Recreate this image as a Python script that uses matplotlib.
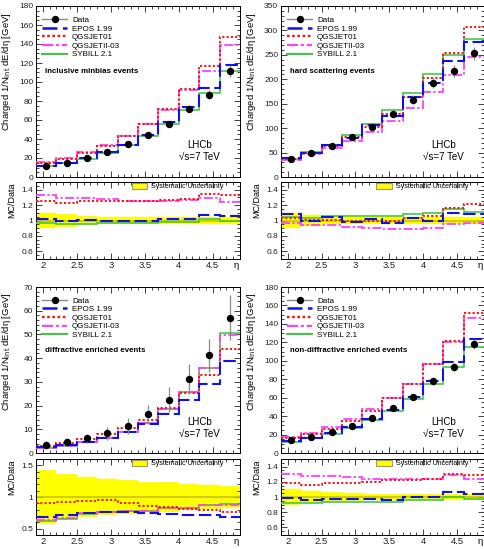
import numpy as np
import matplotlib
matplotlib.use("Agg")
import matplotlib.pyplot as plt
from matplotlib.lines import Line2D
from matplotlib.patches import Patch
from matplotlib.ticker import MultipleLocator, FuncFormatter

plt.rcParams["font.family"] = ["Liberation Sans", "DejaVu Sans"]

# pseudorapidity binning, 1.9 < eta < 4.9 in steps of 0.3
ETA_EDGES = np.round(np.linspace(1.9, 4.9, 11), 2)
ETA_MID = 0.5 * (ETA_EDGES[:-1] + ETA_EDGES[1:])

# inclusive minbias
MB_DATA  = [11.6, 15.1, 20.0, 26.0, 34.5, 44.7, 56.3, 72.1, 86.8, 111.5]
MB_ERR   = [1.0, 1.0, 1.2, 1.5, 1.8, 2.2, 2.6, 3.5, 4.4, 6.5]
MB_SYST  = [0.10, 0.08, 0.06, 0.045, 0.04, 0.04, 0.04, 0.04, 0.05, 0.05]
MB_EPOS  = [1.024, 1.0, 1.006, 1.0, 0.99, 0.99, 1.02, 1.02, 1.076, 1.055]
MB_QGS1  = [1.25, 1.23, 1.25, 1.25, 1.25, 1.25, 1.27, 1.285, 1.345, 1.325]
MB_QGS2  = [1.33, 1.295, 1.29, 1.28, 1.25, 1.25, 1.255, 1.265, 1.29, 1.245]
MB_SYB   = [0.967, 0.95, 0.96, 0.963, 0.963, 0.963, 0.985, 0.985, 1.02, 1.0]

# hard scattering
HS_DATA  = [36.2, 49.2, 62.9, 81.3, 103.2, 129.9, 158.6, 192.0, 217.4, 252.9]
HS_ERR   = [2.5, 3.0, 3.5, 4.5, 6.0, 7.0, 8.5, 10.0, 12.0, 13.5]
HS_SYST  = [0.10, 0.07, 0.05, 0.045, 0.045, 0.045, 0.045, 0.045, 0.045, 0.045]
HS_EPOS  = [1.08, 1.0, 1.04, 0.985, 1.024, 0.965, 1.03, 1.0, 1.095, 1.09]
HS_QGS1  = [1.037, 1.012, 1.005, 1.0, 0.993, 0.993, 1.028, 1.055, 1.163, 1.213]
HS_QGS2  = [0.965, 0.937, 0.937, 0.917, 0.897, 0.887, 0.895, 0.903, 0.96, 0.973]
HS_SYB   = [1.04, 1.027, 1.052, 1.058, 1.06, 1.06, 1.085, 1.097, 1.146, 1.113]

# diffractive enriched
DF_DATA  = [3.46, 4.57, 6.2, 8.3, 11.5, 16.35, 22.45, 31.2, 41.15, 57.1]
DF_ERR   = [1.7, 1.8, 2.0, 2.7, 3.3, 4.0, 5.2, 6.5, 7.0, 9.4]
DF_SYST  = [0.43, 0.37, 0.32, 0.29, 0.265, 0.24, 0.23, 0.21, 0.19, 0.17]
DF_EPOS  = [0.68, 0.714, 0.75, 0.765, 0.77, 0.745, 0.735, 0.71, 0.71, 0.68]
DF_QGS1  = [0.90, 0.915, 0.93, 0.95, 0.91, 0.855, 0.84, 0.81, 0.80, 0.765]
DF_QGS2  = [0.63, 0.67, 0.75, 0.77, 0.78, 0.78, 0.82, 0.83, 0.875, 0.875]
DF_SYB   = [0.617, 0.66, 0.73, 0.765, 0.78, 0.785, 0.82, 0.83, 0.87, 0.888]

# non-diffractive enriched
ND_DATA  = [13.6, 17.5, 22.5, 29.2, 38.4, 48.7, 61.1, 77.7, 92.9, 118.0]
ND_ERR   = [1.0, 1.0, 1.2, 1.5, 1.8, 2.2, 2.8, 3.5, 4.5, 5.5]
ND_SYST  = [0.10, 0.08, 0.06, 0.05, 0.045, 0.045, 0.04, 0.04, 0.045, 0.045]
ND_EPOS  = [0.99, 0.96, 0.97, 0.97, 0.97, 0.96, 1.0, 1.0, 1.063, 1.046]
ND_QGS1  = [1.18, 1.162, 1.18, 1.188, 1.2, 1.218, 1.23, 1.237, 1.305, 1.29]
ND_QGS2  = [1.305, 1.27, 1.27, 1.262, 1.237, 1.232, 1.232, 1.237, 1.29, 1.24]
ND_SYB   = [0.915, 0.924, 0.937, 0.937, 0.937, 0.937, 0.96, 0.96, 1.0, 0.976]

MODELS = [
    # label, color, linestyle, linewidth
    ("EPOS 1.99",   "#1010f0", (0, (6, 2.2)),          1.5),
    ("QGSJET01",    "#ff1010", (0, (1.1, 1.1)),        1.4),
    ("QGSJETII-03", "#ff40ff", (0, (5, 1.3, 1.3, 1.3)), 1.3),
    ("SYBILL 2.1",  "#44c844", "-",                    1.2),
]

PANELS = [
    # title, data, err, syst, ratios, main ylim, major, minor, ratio ylim, rmajor, rminor
    ("inclusive minbias events", MB_DATA, MB_ERR, MB_SYST,
     [MB_EPOS, MB_QGS1, MB_QGS2, MB_SYB], 180, 20, 5, (0.5, 1.5), 0.2, 0.05),
    ("hard scattering events", HS_DATA, HS_ERR, HS_SYST,
     [HS_EPOS, HS_QGS1, HS_QGS2, HS_SYB], 350, 50, 10, (0.5, 1.5), 0.2, 0.05),
    ("diffractive enriched events", DF_DATA, DF_ERR, DF_SYST,
     [DF_EPOS, DF_QGS1, DF_QGS2, DF_SYB], 70, 10, 2, (0.4, 1.6), 0.5, 0.1),
    ("non-diffractive enriched events", ND_DATA, ND_ERR, ND_SYST,
     [ND_EPOS, ND_QGS1, ND_QGS2, ND_SYB], 180, 20, 5, (0.5, 1.5), 0.2, 0.05),
]

W, H = 485, 549
fig = plt.figure(figsize=(W / 100, H / 100), dpi=100)

# pixel boxes: (left, right) columns, (main top, main bottom, ratio top, ratio bottom) rows
COLS = [(36, 240), (281, 484)]
ROWS = [(6, 177, 182, 259), (287, 453, 459, 535)]
YLABEL_LEN = 119  # pixel length of the long y titles

fmt_g = FuncFormatter(lambda v, p: f"{v:g}")


def px_axes(l, r, t, b):
    return fig.add_axes([l / W, 1 - b / H, (r - l) / W, (b - t) / H])


def style_axes(ax, major, minor):
    ax.set_xlim(ETA_EDGES[0], ETA_EDGES[-1])
    ax.xaxis.set_major_locator(MultipleLocator(0.5))
    ax.xaxis.set_minor_locator(MultipleLocator(0.1))
    ax.yaxis.set_major_locator(MultipleLocator(major))
    ax.yaxis.set_minor_locator(MultipleLocator(minor))
    ax.xaxis.set_major_formatter(fmt_g)
    ax.yaxis.set_major_formatter(fmt_g)
    ax.tick_params(which="both", direction="in", top=True, right=True,
                   width=0.6, colors="#222222")
    ax.tick_params(which="major", length=4.5)
    ax.tick_params(which="minor", length=2.3)
    ax.tick_params(axis="y", labelsize=6, pad=2)
    ax.tick_params(axis="x", labelsize=6.8, pad=1.5)
    for s in ax.spines.values():
        s.set_linewidth(0.7)


main_axes = []
for i, (title, data, err, syst, ratios, ytop, maj, mnr,
        rlim, rmaj, rmnr) in enumerate(PANELS):
    l, r = COLS[i % 2]
    mt, mb, rt, rb = ROWS[i // 2]
    data = np.array(data)

    # ---- main distribution ----
    ax = px_axes(l, r, mt, mb)
    for (lab, col, ls, lw), rat in reversed(list(zip(MODELS, ratios))):
        ax.stairs(np.array(rat) * data, ETA_EDGES, color=col, ls=ls, lw=lw,
                  baseline=None, zorder=3)
    ax.errorbar(ETA_MID, data, yerr=err, fmt="o", color="black", ms=4.3,
                ecolor="#8a8a8a", elinewidth=0.9, capsize=0, zorder=5)
    ax.set_ylim(0, ytop)
    style_axes(ax, maj, mnr)
    ax.tick_params(labelbottom=False)
    ax.set_ylabel("Charged 1/N$_{\\rm int}$ dE/d\u03b7 [GeV]", fontsize=7,
                  loc="top")
    ax.yaxis.set_label_coords(-0.113, 0.965)
    main_axes.append(ax)

    handles = [Line2D([], [], color="#8a8a8a", lw=1.0, marker="o", ms=4.3,
                      mfc="black", mec="black")]
    handles += [Line2D([], [], color=c, ls=s, lw=w + 0.3) for _, c, s, w in MODELS]
    labels = ["Data"] + [m[0] for m in MODELS]
    ax.legend(handles, labels, loc="upper left", bbox_to_anchor=(0.03, 0.94),
              frameon=False, fontsize=5.8, handlelength=3.1, handletextpad=0.6,
              labelspacing=0.12, borderpad=0, borderaxespad=0)
    ax.text(0.045, 0.615, title, transform=ax.transAxes, fontsize=5.7,
            fontweight="bold", va="center", ha="left")
    ax.text(0.80, 0.187, "LHCb", transform=ax.transAxes, fontsize=7,
            ha="center", va="center")
    ax.text(0.80, 0.117, "\u221as=7 TeV", transform=ax.transAxes, fontsize=7,
            ha="center", va="center")

    # ---- MC / data ratio ----
    rx = px_axes(l, r, rt, rb)
    syst = np.array(syst)
    rx.stairs(1 + syst, ETA_EDGES, baseline=1 - syst, fill=True,
              color="#ffff00", lw=0, zorder=1)
    rx.axhline(1.0, color="#c8c400", lw=1.2, zorder=2)
    for (lab, col, ls, lw), rat in reversed(list(zip(MODELS, ratios))):
        rx.stairs(rat, ETA_EDGES, color=col, ls=ls, lw=lw, baseline=None,
                  zorder=3)
    rx.set_ylim(*rlim)
    style_axes(rx, rmaj, rmnr)
    rx.set_ylabel("MC/Data", fontsize=6.5, loc="top")
    rx.yaxis.set_label_coords(-0.097, 0.99)
    rx.text(0.995, -0.09, "\u03b7", transform=rx.transAxes, fontsize=6.8,
            ha="right", va="center")
    rx.legend([Patch(facecolor="#ffff00", edgecolor="#9a9a7a", lw=0.8)],
              ["Systematic Uncertainty"], loc="upper left",
              bbox_to_anchor=(0.465, 1.0), frameon=False, fontsize=5,
              handlelength=2.2, handleheight=0.9, handletextpad=0.6,
              borderpad=0.15, borderaxespad=0)

# shrink the long y titles so they run over the upper part of the axis only
fig.canvas.draw()
renderer = fig.canvas.get_renderer()
for ax in main_axes:
    lab = ax.yaxis.label
    h = lab.get_window_extent(renderer).height
    lab.set_fontsize(lab.get_fontsize() * YLABEL_LEN / h)

fig.savefig("out.png", dpi=100)
